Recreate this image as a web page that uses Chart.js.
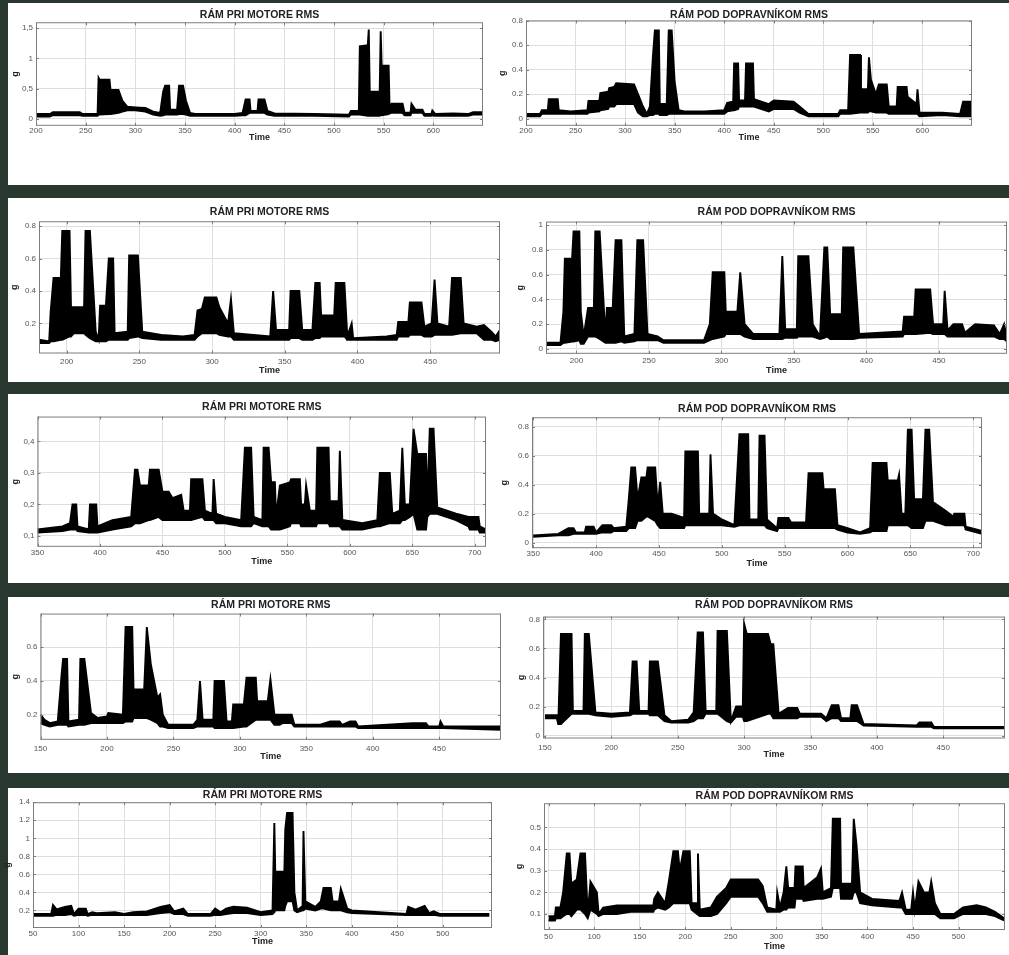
<!DOCTYPE html>
<html>
<head>
<meta charset="utf-8">
<script src="https://cdn.jsdelivr.net/npm/chart.js@4.4.1/dist/chart.umd.min.js"></script>
<style>
body { margin: 0; width: 1009px; height: 955px; background: #29382f; position: relative; overflow: hidden; }
.row { position: absolute; left: 8px; right: 0; background: #fff; }
canvas { position: absolute; }
</style>
</head>
<body>
<div class="row" style="top:3px;height:182px"></div>
<div class="row" style="top:198px;height:184px"></div>
<div class="row" style="top:394px;height:189px"></div>
<div class="row" style="top:597px;height:176px"></div>
<div class="row" style="top:788px;height:167px"></div>
<script>
const TITLE_MOTOR = 'RÁM PRI MOTORE RMS'
const TITLE_CONV = 'RÁM POD DOPRAVNÍKOM RMS'

// ---- row 1 ----
const p1Time = [200,214,217,244,247,262,263,264,274,275,
  283,287,292,300,310,318,325,328,330,334,
  335,342,344,348,351,355,360,400,408,411,
  415,416,423,424,430,433,440,480,515,517,
  525,526,534,535,536,546,547,548,555,556,
  558,569,571,577,578,582,589,591,598,599,
  602,620,635,640,650]
const p1Hi = [.08,.08,.11,.11,.08,.08,.68,.65,.65,.48,
  .48,.3,.2,.19,.18,.12,.1,.45,.55,.55,
  .15,.15,.55,.55,.3,.1,.08,.08,.1,.32,
  .32,.13,.13,.32,.32,.13,.09,.08,.07,.13,
  .13,1.2,1.22,1.48,.45,.45,1.45,.88,.88,.15,
  .25,.25,.1,.1,.25,.15,.15,.08,.08,.14,
  .08,.09,.08,.11,.11]
const p1Lo = [.04,.04,.06,.06,.05,.05,.07,.07,.08,.08,
  .1,.12,.14,.14,.12,.07,.05,.06,.07,.07,
  .07,.07,.08,.08,.07,.05,.05,.05,.06,.06,
  .1,.1,.1,.1,.1,.07,.05,.05,.04,.07,
  .07,.07,.05,.05,.05,.05,.06,.06,.08,.09,
  .1,.1,.06,.06,.1,.1,.1,.05,.05,.06,
  .05,.05,.05,.07,.07]

const p2Time = [200,214,216,222,223,232,233,245,262,263,
  274,275,283,284,289,291,309,313,318,322,
  325,328,330,334,335,342,344,347,350,354,
  360,380,400,403,409,410,414,415,421,422,
  429,430,445,450,470,476,485,515,517,525,
  527,537,538,545,546,548,553,556,564,566,
  574,575,584,585,594,595,597,620,638,641,
  650]
const p2Hi = [.04,.04,.07,.07,.16,.16,.07,.06,.07,.145,
  .145,.21,.22,.25,.26,.29,.28,.2,.1,.04,
  .1,.5,.72,.72,.12,.12,.72,.72,.3,.07,
  .06,.06,.07,.13,.14,.45,.45,.15,.15,.45,
  .45,.16,.12,.15,.14,.1,.04,.04,.07,.07,
  .52,.52,.24,.24,.5,.32,.2,.28,.28,.1,
  .1,.26,.26,.18,.12,.24,.05,.05,.04,.14,
  .14]
const p2Lo = [.02,.02,.04,.04,.04,.04,.04,.04,.04,.05,
  .06,.07,.08,.1,.1,.12,.12,.05,.02,.02,
  .03,.03,.04,.04,.03,.03,.04,.04,.04,.04,
  .04,.04,.04,.06,.07,.07,.08,.1,.1,.1,
  .1,.1,.06,.08,.08,.05,.02,.02,.04,.04,
  .04,.05,.05,.05,.06,.06,.05,.05,.05,.04,
  .04,.04,.04,.04,.04,.04,.02,.03,.02,.02,
  .02]

// ---- row 2 ----
const p3Time = [181,188,189,191,196,197,202,203,205,212,
  213,216,220,222,223,227,229,232,233,242,
  243,249,252,265,280,288,290,293,295,303,
  305,311,313,315,340,342,344,353,354,360,
  362,369,371,374,375,384,385,391,393,396,
  397,420,427,428,435,436,444,446,451,453,
  455,463,465,471,473,482,487,492,495,498]
const p3Hi = [.1,.09,.27,.48,.48,.77,.77,.3,.3,.3,
  .77,.77,.15,.1,.31,.31,.6,.6,.14,.15,
  .62,.62,.15,.13,.12,.13,.28,.29,.36,.36,
  .3,.2,.35,.14,.12,.4,.16,.16,.4,.4,
  .16,.16,.45,.45,.25,.25,.45,.45,.12,.2,
  .11,.12,.13,.21,.21,.33,.33,.18,.2,.47,
  .2,.18,.48,.48,.2,.18,.19,.15,.12,.16]
const p3Lo = [.08,.08,.09,.09,.1,.1,.12,.12,.14,.14,
  .13,.11,.09,.09,.09,.09,.1,.1,.1,.1,
  .11,.12,.11,.1,.1,.1,.12,.14,.14,.14,
  .13,.12,.12,.1,.1,.1,.1,.1,.11,.11,
  .1,.1,.11,.11,.12,.12,.12,.12,.1,.1,
  .1,.1,.1,.12,.12,.13,.13,.12,.12,.13,
  .13,.13,.13,.14,.14,.14,.1,.1,.09,.1]

const p4Time = [175,189,191,192,197,198,202,203,205,208,
  212,213,216,220,221,225,227,231,233,240,
  242,246,249,256,260,288,292,294,302,303,
  311,313,316,322,340,342,344,352,353,360,
  363,368,371,373,375,383,384,391,395,425,
  426,433,434,444,446,453,454,456,460,466,
  468,475,488,492,495,497]
const p4Hi = [.05,.05,.3,.73,.73,.95,.95,.3,.1,.33,
  .33,.95,.95,.1,.33,.33,.88,.88,.1,.12,
  .88,.88,.12,.1,.07,.07,.2,.62,.62,.3,
  .3,.62,.2,.12,.12,.75,.16,.16,.75,.75,
  .2,.1,.82,.82,.28,.28,.82,.82,.12,.14,
  .26,.26,.48,.48,.2,.2,.47,.15,.2,.2,
  .13,.2,.19,.12,.2,.08]
const p4Lo = [.03,.03,.05,.05,.06,.06,.07,.04,.04,.1,
  .1,.1,.08,.05,.05,.05,.05,.06,.05,.06,
  .07,.07,.07,.07,.05,.05,.07,.08,.1,.12,
  .12,.12,.1,.08,.08,.08,.09,.09,.1,.1,
  .1,.08,.09,.1,.08,.08,.08,.08,.09,.1,
  .12,.12,.12,.13,.12,.12,.12,.1,.1,.1,
  .1,.1,.1,.08,.08,.06]

// ---- row 3 ----
const p5Time = [350,370,376,378,381,382,391,392,397,398,
  410,425,428,430,432,439,440,447,450,455,
  458,465,467,472,473,482,484,490,491,493,
  500,513,516,521,523,530,531,535,537,540,
  541,544,552,553,560,561,564,565,568,573,
  574,583,584,591,592,594,610,622,624,632,
  634,640,642,644,648,651,654,661,662,664,
  667,670,685,695,696,703,704,709]
const p5Hi = [.12,.13,.14,.2,.2,.13,.12,.2,.2,.13,
  .15,.16,.31,.31,.26,.26,.31,.31,.24,.24,
  .22,.23,.18,.18,.28,.28,.18,.17,.28,.17,
  .16,.15,.38,.38,.16,.15,.38,.38,.27,.27,
  .16,.26,.27,.28,.28,.2,.2,.26,.18,.18,
  .38,.38,.21,.21,.37,.15,.14,.15,.3,.3,
  .17,.18,.38,.2,.2,.44,.36,.36,.2,.44,
  .44,.19,.17,.16,.16,.16,.13,.12]
const p5Lo = [.11,.115,.12,.12,.12,.115,.11,.11,.11,.11,
  .12,.13,.14,.14,.14,.15,.15,.16,.15,.15,
  .15,.15,.15,.15,.15,.16,.15,.15,.15,.14,
  .14,.13,.13,.13,.14,.13,.13,.13,.12,.12,
  .12,.12,.13,.14,.14,.13,.13,.13,.13,.13,
  .14,.14,.13,.13,.13,.12,.12,.13,.13,.14,
  .14,.14,.15,.15,.16,.17,.12,.12,.16,.17,
  .17,.17,.15,.13,.12,.12,.11,.11]

const p6Time = [350,370,378,382,384,391,392,398,400,405,
  412,414,424,426,428,431,433,436,440,441,
  447,449,451,453,460,470,471,481,482,490,
  491,493,500,510,514,521,522,529,530,534,
  536,544,545,553,555,567,569,580,581,590,
  592,600,610,618,620,631,632,640,641,643,
  646,648,651,653,660,662,665,668,678,684,
  685,693,694,707]
const p6Hi = [.05,.06,.1,.1,.07,.07,.11,.11,.07,.12,
  .12,.1,.11,.3,.52,.52,.3,.45,.45,.52,
  .52,.25,.42,.2,.2,.17,.63,.63,.2,.2,
  .61,.2,.16,.12,.75,.75,.16,.16,.74,.74,
  .16,.1,.17,.17,.14,.14,.48,.48,.37,.37,
  .12,.1,.07,.1,.55,.55,.43,.43,.47,.2,
  .2,.78,.78,.3,.3,.78,.78,.28,.22,.18,
  .2,.2,.11,.08]
const p6Lo = [.04,.05,.05,.06,.06,.06,.06,.06,.06,.07,
  .07,.08,.08,.1,.1,.1,.15,.15,.18,.18,
  .15,.12,.1,.1,.1,.1,.12,.12,.12,.12,
  .12,.12,.12,.11,.12,.12,.12,.12,.12,.12,
  .1,.08,.1,.1,.1,.1,.1,.1,.1,.1,
  .09,.07,.06,.07,.08,.08,.12,.12,.12,.12,
  .12,.12,.1,.1,.1,.15,.15,.15,.12,.12,
  .12,.12,.09,.06]

// ---- row 4 ----
const p7Time = [150,153,157,163,166,167,170,171,179,180,
  183,188,193,200,201,212,214,219,220,228,
  230,233,238,240,242,246,265,268,270,272,
  280,281,288,290,294,295,303,305,312,313,
  321,323,326,330,332,339,341,360,368,375,
  377,383,387,389,430,440,442,450,451,453,
  497]
const p7Hi = [.2,.17,.15,.16,.45,.53,.53,.16,.17,.53,
  .53,.21,.18,.19,.21,.2,.72,.72,.35,.35,
  .72,.5,.3,.32,.2,.14,.14,.17,.4,.17,
  .17,.4,.4,.16,.16,.26,.26,.42,.42,.28,
  .28,.41,.2,.2,.2,.2,.14,.14,.16,.16,
  .14,.16,.16,.13,.15,.15,.13,.13,.16,.13,
  .13]
const p7Lo = [.15,.14,.13,.14,.14,.14,.14,.13,.14,.14,
  .14,.15,.15,.15,.15,.15,.16,.16,.18,.18,
  .18,.17,.15,.13,.13,.12,.12,.13,.13,.13,
  .13,.12,.12,.12,.12,.12,.13,.13,.17,.17,
  .17,.17,.14,.14,.15,.15,.13,.13,.13,.13,
  .13,.13,.13,.12,.12,.12,.12,.12,.12,.12,
  .11]

const p8Time = [150,159,160,162,170,171,179,180,183,188,
  200,214,216,219,221,228,229,235,240,245,
  258,262,265,269,271,279,280,287,290,294,
  299,300,302,318,320,322,326,333,340,342,
  358,362,366,371,373,380,381,385,390,430,
  432,441,443,497]
const p8Hi = [.14,.14,.08,.7,.7,.17,.17,.7,.7,.16,
  .15,.16,.51,.51,.17,.17,.51,.51,.14,.1,
  .11,.16,.71,.71,.17,.17,.72,.72,.1,.2,
  .2,.77,.7,.7,.63,.63,.15,.19,.19,.15,
  .15,.12,.21,.21,.12,.12,.21,.21,.08,.07,
  .09,.09,.06,.06]
const p8Lo = [.12,.12,.08,.08,.15,.15,.15,.15,.15,.14,
  .13,.14,.15,.15,.15,.15,.14,.14,.1,.09,
  .09,.1,.12,.12,.15,.15,.15,.1,.09,.13,
  .13,.1,.1,.15,.15,.12,.12,.12,.12,.13,
  .13,.1,.12,.12,.1,.1,.1,.1,.07,.06,
  .06,.06,.05,.05]

// ---- row 5 ----
const p9Time = [50,70,72,76,85,92,95,100,108,110,
  115,120,140,150,160,175,190,200,205,215,
  220,245,250,256,262,270,285,300,313,315,
  316,326,327,329,335,337,340,346,347,349,
  360,366,369,377,379,386,388,395,400,430,
  460,462,470,480,485,490,497,551]
const p9Hi = [.16,.16,.26,.21,.24,.25,.16,.22,.22,.16,
  .18,.17,.18,.16,.18,.19,.24,.26,.19,.22,
  .16,.16,.22,.18,.22,.24,.23,.18,.2,1.17,
  .63,.63,1.1,1.28,1.28,.4,.2,.25,1.08,.3,
  .24,.3,.45,.45,.3,.3,.44,.22,.2,.18,
  .16,.24,.21,.25,.17,.19,.16,.16]
const p9Lo = [.14,.14,.14,.15,.15,.16,.14,.15,.15,.14,
  .15,.15,.15,.15,.15,.15,.17,.18,.16,.16,
  .14,.14,.15,.15,.16,.17,.17,.15,.16,.18,
  .2,.2,.25,.3,.3,.2,.18,.2,.2,.22,
  .2,.22,.22,.2,.2,.2,.2,.18,.17,.16,
  .15,.15,.15,.15,.15,.15,.14,.14]

const p10Time = [50,57,58,63,66,70,73,75,81,85,
  90,93,96,103,105,110,125,140,165,166,
  170,178,182,187,192,194,198,205,207,213,
  214,216,228,235,245,250,280,285,290,300,
  301,304,308,311,313,320,321,329,330,345,
  349,351,360,362,370,371,383,385,388,392,
  405,435,438,442,448,450,452,456,462,468,
  470,474,480,495,505,520,530,540,550]
const p10Hi = [.09,.09,.13,.13,.2,.38,.38,.24,.26,.38,
  .38,.1,.25,.2,.1,.13,.14,.14,.14,.17,
  .2,.15,.25,.39,.39,.3,.39,.39,.15,.15,
  .38,.12,.13,.18,.22,.26,.26,.23,.13,.12,
  .2,.13,.2,.32,.22,.22,.32,.32,.22,.27,
  .31,.2,.22,.54,.54,.24,.24,.54,.42,.2,
  .17,.16,.2,.12,.12,.2,.12,.25,.2,.2,
  .25,.15,.1,.1,.13,.14,.13,.11,.08]
const p10Lo = [.07,.07,.08,.08,.09,.1,.1,.09,.12,.12,
  .1,.08,.12,.1,.09,.1,.1,.11,.11,.12,
  .13,.12,.13,.15,.15,.15,.15,.15,.12,.1,
  .1,.09,.09,.1,.15,.18,.18,.15,.11,.11,
  .11,.11,.12,.12,.13,.13,.17,.17,.16,.17,
  .17,.17,.18,.22,.22,.17,.17,.2,.2,.15,
  .14,.13,.13,.1,.1,.1,.1,.1,.1,.1,
  .1,.1,.08,.08,.1,.1,.1,.09,.07]

// tick values / labels
const xTicks200_600 = [200,250,300,350,400,450,500,550,600]
const xTicks200_450 = [200,250,300,350,400,450]
const xTicks350_700 = [350,400,450,500,550,600,650,700]
const xTicks150_450 = [150,200,250,300,350,400,450]
const xTicks50_500 = [50,100,150,200,250,300,350,400,450,500]
const p1YTicks = [0,0.5,1,1.5]
const p1YLabels = ['0','0,5','1','1,5']
const p2YTicks = [0,0.2,0.4,0.6,0.8]
const p2YLabels = ['0','0.2','0.4','0.6','0.8']
const p3YTicks = [0.2,0.4,0.6,0.8]
const p3YLabels = ['0.2','0.4','0.6','0.8']
const p4YTicks = [0,0.2,0.4,0.6,0.8,1]
const p4YLabels = ['0','0.2','0.4','0.6','0.8','1']
const p5YTicks = [0.1,0.2,0.3,0.4]
const p5YLabels = ['0,1','0,2','0,3','0,4']
const p6YTicks = [0,0.2,0.4,0.6,0.8]
const p6YLabels = ['0','0.2','0.4','0.6','0.8']
const p7YTicks = [0.2,0.4,0.6]
const p7YLabels = ['0.2','0.4','0.6']
const p8YTicks = [0,0.2,0.4,0.6,0.8]
const p8YLabels = ['0','0.2','0.4','0.6','0.8']
const p9YTicks = [0.2,0.4,0.6,0.8,1,1.2,1.4]
const p9YLabels = ['0.2','0.4','0.6','0.8','1','1.2','1.4']
const p10YTicks = [0.1,0.2,0.3,0.4,0.5]
const p10YLabels = ['0.1','0.2','0.3','0.4','0.5']

const FONT = '"Liberation Sans", Arial, sans-serif'

// panel layout: plot box [left, top, right, bottom] in page px
const panels = [
  {t:p1Time, hi:p1Hi, lo:p1Lo, title:TITLE_MOTOR, xt:xTicks200_600, yt:p1YTicks, yl:p1YLabels,
   xr:[200,650], yr:[-0.115,1.6], box:[36,22,483,126], yW:25, xH:16.2, gap:7, tp:0},
  {t:p2Time, hi:p2Hi, lo:p2Lo, title:TITLE_CONV, xt:xTicks200_600, yt:p2YTicks, yl:p2YLabels,
   xr:[200,650], yr:[-0.057,0.8], box:[526,20,972,125], yW:28, xH:16.2, gap:5, tp:0},
  {t:p3Time, hi:p3Hi, lo:p3Lo, title:TITLE_MOTOR, xt:xTicks200_450, yt:p3YTicks, yl:p3YLabels,
   xr:[181,498], yr:[0.015,0.83], box:[39,221,500,353], yW:29, xH:21.5, gap:9, tp:3},
  {t:p4Time, hi:p4Hi, lo:p4Lo, title:TITLE_CONV, xt:xTicks200_450, yt:p4YTicks, yl:p4YLabels,
   xr:[179,497], yr:[-0.04,1.03], box:[546,222,1007,354], yW:30, xH:21.2, gap:9.3, tp:2},
  {t:p5Time, hi:p5Hi, lo:p5Lo, title:TITLE_MOTOR, xt:xTicks350_700, yt:p5YTicks, yl:p5YLabels,
   xr:[350,709], yr:[0.065,0.479], box:[37,417,485,547], yW:26.5, xH:19.2, gap:9.3, tp:1},
  {t:p6Time, hi:p6Hi, lo:p6Lo, title:TITLE_CONV, xt:xTicks350_700, yt:p6YTicks, yl:p6YLabels,
   xr:[349,707], yr:[-0.039,0.867], box:[532,417,982,548], yW:32, xH:19.8, gap:8, tp:1},
  {t:p7Time, hi:p7Hi, lo:p7Lo, title:TITLE_MOTOR, xt:xTicks150_450, yt:p7YTicks, yl:p7YLabels,
   xr:[150,496.5], yr:[0.051,0.8], box:[40,614,500,740], yW:29.5, xH:21.2, gap:8.3, tp:4},
  {t:p8Time, hi:p8Hi, lo:p8Lo, title:TITLE_CONV, xt:xTicks150_450, yt:p8YTicks, yl:p8YLabels,
   xr:[148.5,496.5], yr:[-0.02,0.82], box:[543,617,1005,739], yW:26, xH:20.5, gap:11.3, tp:4},
  {t:p9Time, hi:p9Hi, lo:p9Lo, title:TITLE_MOTOR, xt:xTicks50_500, yt:p9YTicks, yl:p9YLabels,
   xr:[50,554], yr:[0.005,1.4], box:[33,802,492,928], yW:30, xH:18, gap:7, tp:1},
  {t:p10Time, hi:p10Hi, lo:p10Lo, title:TITLE_CONV, xt:xTicks50_500, yt:p10YTicks, yl:p10YLabels,
   xr:[45,551], yr:[0.026,0.612], box:[544,803,1005,930], yW:29, xH:21, gap:7, tp:2}
]

// MATLAB style box with inner tick marks
const framePlugin = {
  id: 'frame',
  afterDatasetsDraw(chart) {
    const {ctx, chartArea: a, scales} = chart
    ctx.save()
    ctx.strokeStyle = '#7d7d7d'
    ctx.lineWidth = 1
    ctx.strokeRect(a.left + 0.5, a.top + 0.5, a.width - 1, a.height - 1)
    ctx.beginPath()
    scales.x.ticks.forEach(tk => {
      const px = Math.round(scales.x.getPixelForValue(tk.value)) + 0.5
      ctx.moveTo(px, a.top); ctx.lineTo(px, a.top + 3)
      ctx.moveTo(px, a.bottom); ctx.lineTo(px, a.bottom - 3)
    })
    scales.y.ticks.forEach(tk => {
      const py = Math.round(scales.y.getPixelForValue(tk.value)) + 0.5
      ctx.moveTo(a.left, py); ctx.lineTo(a.left + 3, py)
      ctx.moveTo(a.right, py); ctx.lineTo(a.right - 3, py)
    })
    ctx.stroke()
    ctx.restore()
  }
}

panels.forEach(p => {
  const [L, T, R, B] = p.box
  const padB = Math.max(0, p.gap - 5.25)
  const topArea = 2 + 10.5 + padB
  const cv = document.createElement('canvas')
  cv.width = Math.round(R - L + p.yW + 1)
  cv.height = Math.round(B - T + topArea + p.xH)
  cv.style.left = (L - p.yW) + 'px'
  cv.style.top = (T - topArea) + 'px'
  document.body.appendChild(cv)

  new Chart(cv, {
    type: 'line',
    data: {
      datasets: [
        {data: p.t.map((v, i) => ({x: v, y: p.lo[i]})), borderColor: '#000', borderWidth: 1.9,
         pointRadius: 0, fill: false, tension: 0},
        {data: p.t.map((v, i) => ({x: v, y: p.hi[i]})), borderColor: '#000', borderWidth: 1.9,
         pointRadius: 0, fill: '-1', backgroundColor: '#000', tension: 0}
      ]
    },
    options: {
      responsive: false,
      animation: false,
      events: [],
      layout: {padding: {left: 0, top: 0, right: 1, bottom: 0}},
      plugins: {
        legend: {display: false},
        tooltip: {enabled: false},
        title: {
          display: true, text: p.title, fullSize: false, color: '#222',
          font: {family: FONT, size: 10.5, weight: 'bold', lineHeight: 1},
          padding: {top: 2, bottom: padB}
        }
      },
      scales: {
        x: {
          type: 'linear', min: p.xr[0], max: p.xr[1],
          afterFit: s => { s.height = p.xH },
          afterBuildTicks: s => { s.ticks = p.xt.map(v => ({value: v})) },
          ticks: {font: {family: FONT, size: 8}, color: '#555', padding: p.tp,
                  autoSkip: false, maxRotation: 0, callback: v => String(v)},
          grid: {color: '#dedede', drawTicks: false},
          border: {display: false},
          title: {display: true, text: 'Time', color: '#222', padding: 0,
                  font: {family: FONT, size: 9, weight: 'bold', lineHeight: 1}}
        },
        y: {
          min: p.yr[0], max: p.yr[1],
          afterFit: s => { s.width = p.yW },
          afterBuildTicks: s => { s.ticks = p.yt.map(v => ({value: v})) },
          ticks: {font: {family: FONT, size: 8}, color: '#555', padding: 3,
                  autoSkip: false, callback: (v, i) => p.yl[i]},
          grid: {color: '#dedede', drawTicks: false},
          border: {display: false},
          title: {display: true, text: 'g', color: '#222', padding: 0,
                  font: {family: FONT, size: 9, weight: 'bold', lineHeight: 1}}
        }
      }
    },
    plugins: [framePlugin]
  })
})
</script>
</body>
</html>
